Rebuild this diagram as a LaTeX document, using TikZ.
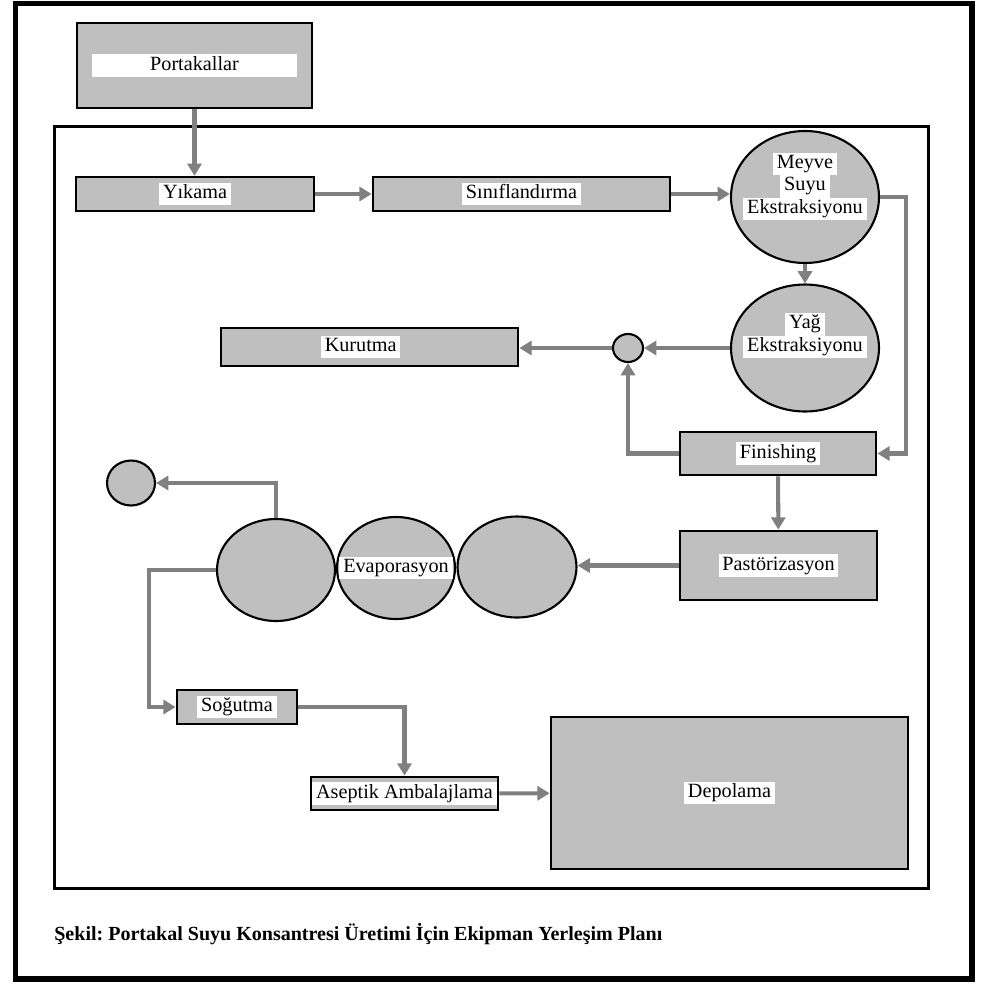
\documentclass[tikz,border=0pt]{standalone}
\usepackage{fontspec}
\setmainfont{Liberation Serif}
\usepackage{tikz}
\usetikzlibrary{shapes.geometric, arrows.meta}
\frenchspacing

\definecolor{boxgray}{RGB}{191,191,191}
\definecolor{linegray}{RGB}{128,128,128}

% white strip behind each line of text
\newcommand{\wl}[1]{{\setlength{\fboxsep}{0pt}\colorbox{white}{\strut\hspace{2.2pt}#1\hspace{2.2pt}}}}

\tikzset{
  unit/.style={rectangle, draw=black, fill=boxgray, line width=1.6pt, inner sep=0pt},
  tank/.style={ellipse, draw=black, fill=boxgray, line width=1.2pt, inner sep=0pt},
  conn/.style={draw=linegray, line width=2.3pt, -{Triangle[length=7pt,width=8pt]}},
}

\begin{document}
\begin{tikzpicture}[x=0.02cm, y=-0.02cm, font=\fontsize{11.5}{12.8}\selectfont]
  \useasboundingbox (0,0) rectangle (981,984);
  \draw[line width=3.4pt] (15.5,3.5) rectangle (972,979);
  \draw[line width=1.7pt] (54.5,126.5) rectangle (928.5,888.5);

  % process units
  \node[unit, line width=1.3pt, minimum width=4.70cm, minimum height=1.70cm] (port) at (194.5,65.5)
    {\wl{\makebox[112pt]{Portakallar}}};
  \node[unit, line width=1.3pt, minimum width=4.76cm, minimum height=0.68cm] (yikama) at (195,194) {\wl{Yıkama}};
  \node[unit, minimum width=5.94cm, minimum height=0.68cm] (sinif) at (521.5,194) {\wl{Sınıflandırma}};
  \node[tank, minimum width=2.96cm, minimum height=2.64cm,
        label={[align=center, yshift=6pt]center:\wl{Meyve}\\\wl{Suyu}\\\wl{Ekstraksiyonu}}] (meyve) at (805,197) {};
  \node[tank, minimum width=2.96cm, minimum height=2.54cm,
        label={[align=center, yshift=7pt]center:\wl{Yağ}\\\wl{Ekstraksiyonu}}] (yag) at (805,348) {};
  \node[tank, minimum width=0.60cm, minimum height=0.56cm] (dot1) at (628,348) {};
  \node[unit, minimum width=5.94cm, minimum height=0.76cm] (kurutma) at (369.5,347) {\hspace{-10pt}\wl{Kurutma}};
  \node[unit, minimum width=3.92cm, minimum height=0.86cm] (finish) at (778,453.5) {\wl{Finishing}};
  \node[unit, minimum width=3.94cm, minimum height=1.38cm] (pastor) at (778.5,565.5) {\wl{Pastörizasyon}};
  \node[tank, minimum width=2.36cm, minimum height=2.04cm] (evapL) at (276,570) {};
  \node[tank, minimum width=2.36cm, minimum height=2.04cm,
        label={center:\wl{Evaporasyon}}] (evapM) at (396,568) {};
  \node[tank, minimum width=2.38cm, minimum height=2.02cm] (evapR) at (517,567) {};
  \node[tank, minimum width=0.96cm, minimum height=0.90cm] (dot2) at (131,483) {};
  \node[unit, minimum width=2.40cm, minimum height=0.68cm] (sogut) at (237,707) {\wl{Soğutma}};
  \node[unit, minimum width=3.74cm, minimum height=0.66cm] (asept) at (404.5,793.5) {\wl{Aseptik Ambalajlama}};
  \node[unit, minimum width=7.14cm, minimum height=3.04cm] (depo) at (729.5,793) {\wl{Depolama}};

  \coordinate (bendR) at (906,197);
  \coordinate (bendL) at (149,570);

  % flow lines
  \draw[conn] (port.south) -- (port.south |- yikama.north);
  \draw[conn] (yikama) -- (sinif);
  \draw[conn] (sinif.east) -- (sinif.east -| meyve.west);
  \draw[conn] (meyve) -- (yag);
  \draw[conn] (meyve.east) -- (bendR) |- (finish.east);
  \draw[conn] (yag) -- (dot1);
  \draw[conn] (dot1.west) -- (dot1.west -| kurutma.east);
  \draw[conn] (finish.west) -| (dot1.south);
  \draw[conn] (finish) -- (pastor);
  \draw[conn] (pastor.west) -- (pastor.west -| evapR.east);
  \draw[conn] (evapL.north) |- (dot2.east);
  \draw[conn] (evapL.west) -- (bendL) |- (sogut.west);
  \draw[conn] (sogut.east) -| (asept.north);
  \draw[conn] (asept) -- (depo);

  \node[anchor=west, inner sep=0pt, font=\bfseries\fontsize{11.4}{13}\selectfont] (caption) at (54,934)
    {Şekil: Portakal Suyu Konsantresi Üretimi İçin Ekipman Yerleşim Planı};
\end{tikzpicture}
\end{document}
